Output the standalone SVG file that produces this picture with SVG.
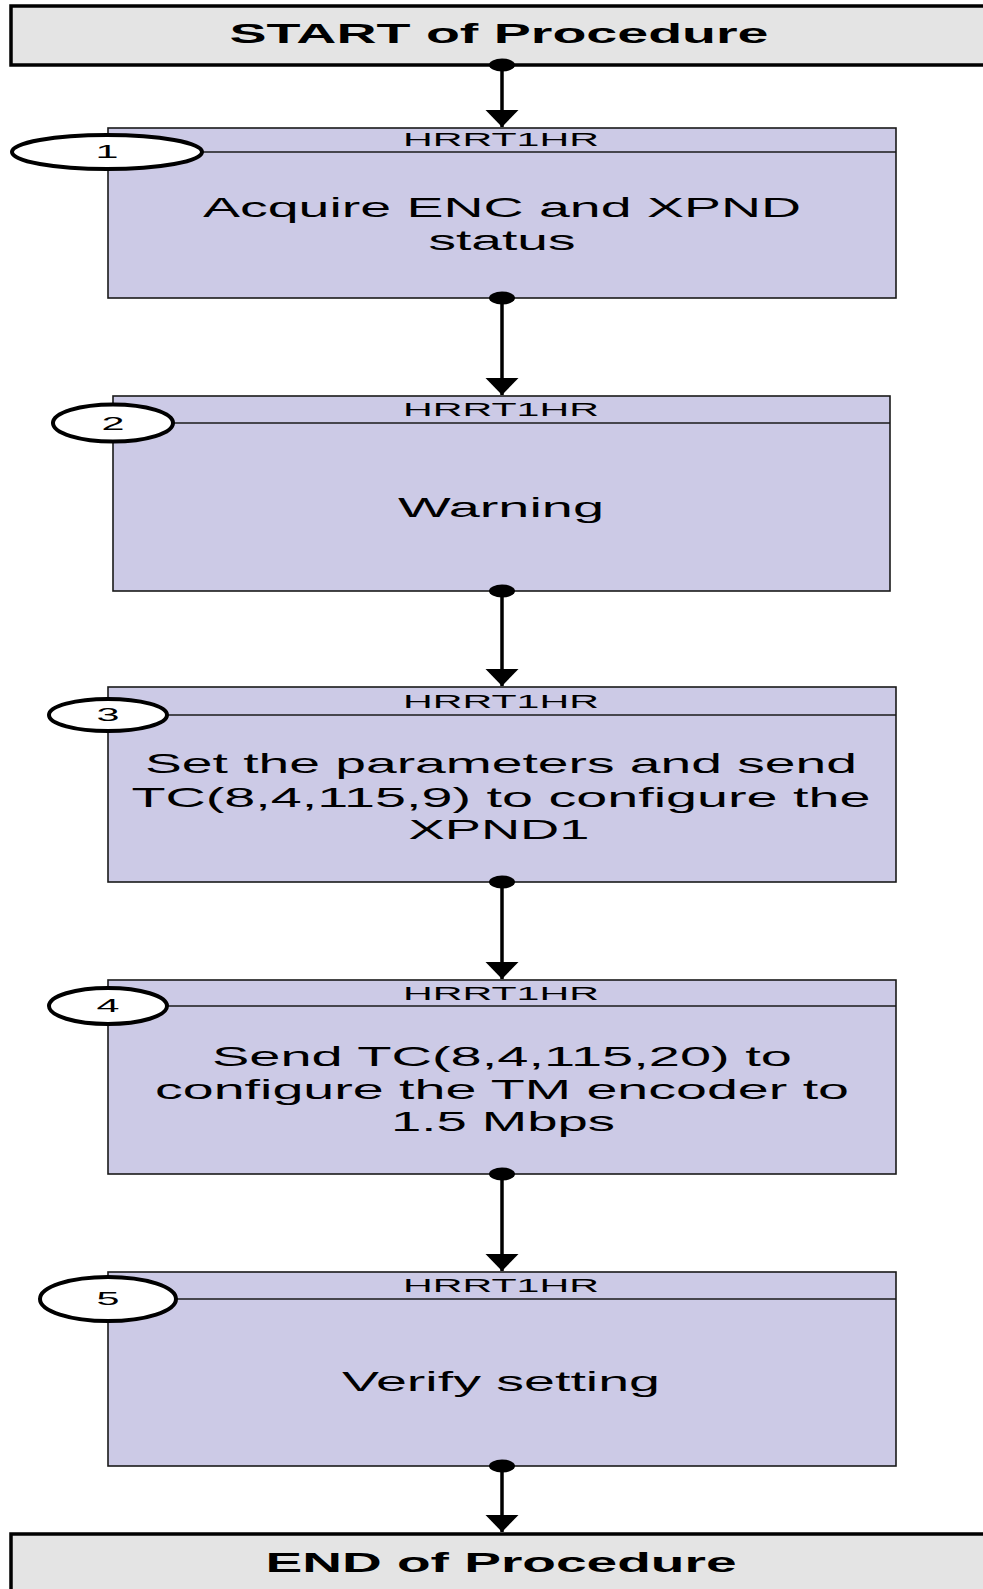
<svg xmlns="http://www.w3.org/2000/svg" width="983" height="1589" viewBox="0 0 983 1589">
<style>
.term{fill:#E4E4E4;stroke:#000;stroke-width:3.5}
.box{fill:#CCCAE6;stroke:#1a1a1a;stroke-width:1.6}
.hdr{stroke:#1a1a1a;stroke-width:1.6}
.oval{fill:#fff;stroke:#000;stroke-width:4}
.ttl{font-family:"Liberation Sans",Arial,sans-serif;font-weight:bold;font-size:27px;fill:#000;text-anchor:middle}
.hd{font-family:"Liberation Sans",Arial,sans-serif;font-size:19px;fill:#000;text-anchor:middle}
.num{font-family:"Liberation Sans",Arial,sans-serif;font-size:19px;fill:#000;text-anchor:middle}
.tx{font-family:"Liberation Sans",Arial,sans-serif;font-size:28px;fill:#000;text-anchor:middle}
.conn{stroke:#000;stroke-width:3.5;fill:none;marker-end:url(#arr)}
.dot{fill:#000}
</style>
<defs>
<marker id="arr" markerUnits="userSpaceOnUse" markerWidth="18" markerHeight="34" refX="17" refY="16.5" orient="auto" overflow="visible">
<path d="M0,0 L17,16.5 L0,33 z" fill="#000"/>
</marker>
</defs>

<g id="start">
<rect class="term" x="11" y="6" width="990" height="59"/>
<text class="ttl" x="499" y="43" textLength="539" lengthAdjust="spacingAndGlyphs">START of Procedure</text>
</g>

<g id="step1">
<rect class="box" x="108" y="128" width="788" height="170"/>
<line class="hdr" x1="108" y1="152" x2="896" y2="152"/>
<text class="hd" x="501" y="146" textLength="196" lengthAdjust="spacingAndGlyphs">HRRT1HR</text>
<text class="tx" x="502" y="217" textLength="598" lengthAdjust="spacingAndGlyphs">Acquire ENC and XPND</text>
<text class="tx" x="502" y="250" textLength="147" lengthAdjust="spacingAndGlyphs">status</text>
<ellipse class="oval" cx="107" cy="152" rx="95" ry="17"/>
<text class="num" x="107" y="158" textLength="23" lengthAdjust="spacingAndGlyphs">1</text>
</g>

<g id="step2">
<rect class="box" x="113" y="396" width="777" height="195"/>
<line class="hdr" x1="113" y1="423" x2="890" y2="423"/>
<text class="hd" x="501" y="416" textLength="196" lengthAdjust="spacingAndGlyphs">HRRT1HR</text>
<text class="tx" x="501" y="517" textLength="206" lengthAdjust="spacingAndGlyphs">Warning</text>
<ellipse class="oval" cx="113" cy="423" rx="60" ry="18.5"/>
<text class="num" x="113" y="430" textLength="23" lengthAdjust="spacingAndGlyphs">2</text>
</g>

<g id="step3">
<rect class="box" x="108" y="687" width="788" height="195"/>
<line class="hdr" x1="108" y1="715" x2="896" y2="715"/>
<text class="hd" x="501" y="708" textLength="196" lengthAdjust="spacingAndGlyphs">HRRT1HR</text>
<text class="tx" x="501" y="773" textLength="712" lengthAdjust="spacingAndGlyphs">Set the parameters and send</text>
<text class="tx" x="501" y="807" textLength="739" lengthAdjust="spacingAndGlyphs">TC(8,4,115,9) to configure the</text>
<text class="tx" x="499" y="839" textLength="181" lengthAdjust="spacingAndGlyphs">XPND1</text>
<ellipse class="oval" cx="108" cy="715" rx="59" ry="16"/>
<text class="num" x="108" y="721" textLength="23" lengthAdjust="spacingAndGlyphs">3</text>
</g>

<g id="step4">
<rect class="box" x="108" y="980" width="788" height="194"/>
<line class="hdr" x1="108" y1="1006" x2="896" y2="1006"/>
<text class="hd" x="501" y="1000" textLength="196" lengthAdjust="spacingAndGlyphs">HRRT1HR</text>
<text class="tx" x="502" y="1066" textLength="580" lengthAdjust="spacingAndGlyphs">Send TC(8,4,115,20) to</text>
<text class="tx" x="502" y="1099" textLength="694" lengthAdjust="spacingAndGlyphs">configure the TM encoder to</text>
<text class="tx" x="503" y="1131" textLength="224" lengthAdjust="spacingAndGlyphs">1.5 Mbps</text>
<ellipse class="oval" cx="108" cy="1006" rx="59" ry="18"/>
<text class="num" x="108" y="1012" textLength="23" lengthAdjust="spacingAndGlyphs">4</text>
</g>

<g id="step5">
<rect class="box" x="108" y="1272" width="788" height="194"/>
<line class="hdr" x1="108" y1="1299" x2="896" y2="1299"/>
<text class="hd" x="501" y="1292" textLength="196" lengthAdjust="spacingAndGlyphs">HRRT1HR</text>
<text class="tx" x="501" y="1391" textLength="318" lengthAdjust="spacingAndGlyphs">Verify setting</text>
<ellipse class="oval" cx="108" cy="1299" rx="68" ry="22"/>
<text class="num" x="108" y="1305" textLength="23" lengthAdjust="spacingAndGlyphs">5</text>
</g>

<g id="end">
<rect class="term" x="11" y="1534" width="990" height="70"/>
<text class="ttl" x="501" y="1572" textLength="471" lengthAdjust="spacingAndGlyphs">END of Procedure</text>
</g>

<g id="connectors">
<line class="conn" x1="502" y1="65" x2="502" y2="127"/>
<ellipse class="dot" cx="502" cy="65" rx="13" ry="6.5"/>
<line class="conn" x1="502" y1="298" x2="502" y2="395"/>
<ellipse class="dot" cx="502" cy="298" rx="13" ry="6.5"/>
<line class="conn" x1="502" y1="591" x2="502" y2="686"/>
<ellipse class="dot" cx="502" cy="591" rx="13" ry="6.5"/>
<line class="conn" x1="502" y1="882" x2="502" y2="979"/>
<ellipse class="dot" cx="502" cy="882" rx="13" ry="6.5"/>
<line class="conn" x1="502" y1="1174" x2="502" y2="1271"/>
<ellipse class="dot" cx="502" cy="1174" rx="13" ry="6.5"/>
<line class="conn" x1="502" y1="1466" x2="502" y2="1532"/>
<ellipse class="dot" cx="502" cy="1466" rx="13" ry="6.5"/>
</g>
</svg>
